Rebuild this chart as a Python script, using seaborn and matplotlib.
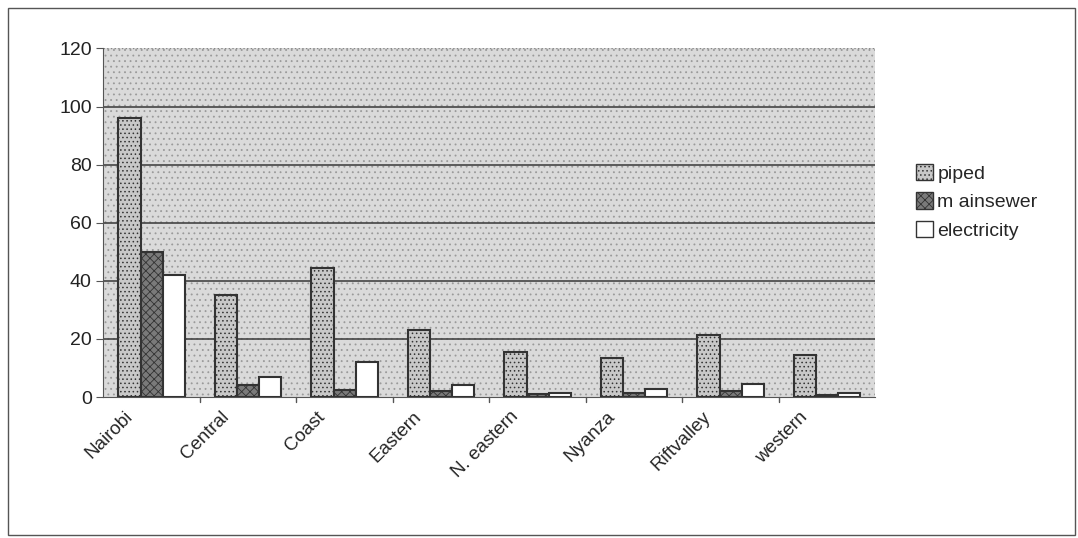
import matplotlib.pyplot as plt
import matplotlib.patches as mpatches
import matplotlib.transforms as mtransforms
import pandas as pd
import seaborn as sns

# valores
regions = ['Nairobi', 'Central', 'Coast', 'Eastern', 'N. eastern', 'Nyanza', 'Riftvalley', 'western']
piped = [96, 35, 44.5, 23, 15.5, 13.5, 21.5, 14.5]
mainsewer = [50, 4, 2.5, 2, 1, 1.5, 2, 0.8]
electricity = [42, 7, 12, 4, 1.5, 2.8, 4.5, 1.3]
series = ['piped', 'm ainsewer', 'electricity']

df = pd.DataFrame({'region': regions, 'piped': piped, 'm ainsewer': mainsewer, 'electricity': electricity})
df = df.melt(id_vars='region', var_name='serie', value_name='valor')

sns.set_style('white')
plt.rcParams['font.family'] = ['Liberation Sans', 'DejaVu Sans']
plt.rcParams['hatch.linewidth'] = 0.6

fig = plt.figure(figsize=(10.78, 5.38), dpi=100)
ax = fig.add_axes([0.096, 0.262, 0.716, 0.648])

# fundo pontilhado cinza
ax.set_facecolor('#dadada')
ax.add_patch(mpatches.Rectangle((0, 0), 1, 1, transform=ax.transAxes, facecolor='none',
                                edgecolor='#9a9a9a', hatch='...', lw=0, zorder=0))

sns.barplot(data=df, x='region', y='valor', hue='serie', hue_order=series,
            palette=['#c8c8c8', '#7a7a7a', '#ffffff'], width=0.69, gap=0,
            edgecolor='#333333', linewidth=1.5, saturation=1, ax=ax, zorder=3)

hatches = ['....', 'xxxx', '']
for cont, h in zip(ax.containers, hatches):
    for bar in cont:
        bar.set_hatch(h)

ax.set_ylim(0, 120)
ax.set_yticks(range(0, 121, 20))
ax.set_xlim(-0.5, 7.5)
for y in range(20, 101, 20):
    ax.axhline(y, color='#444444', lw=1.2, zorder=1)
ax.axhline(120, color='#888888', lw=1, ls=':', zorder=1)

ax.set_xlabel('')
ax.set_ylabel('')
ax.tick_params(axis='y', labelsize=14, length=5, direction='out', left=True, color='#555555', colors='#222222')
ax.set_xticks(range(8))
ax.set_xticklabels(regions, rotation=45, ha='right', rotation_mode='anchor', fontsize=13.5)
ax.tick_params(axis='x', length=0, pad=8)
offset = mtransforms.ScaledTranslation(-0.28, 0, fig.dpi_scale_trans)
for lbl in ax.get_xticklabels():
    lbl.set_transform(lbl.get_transform() + offset)
for x in [i + 0.5 for i in range(7)]:
    ax.plot([x, x], [0, -0.015], transform=ax.get_xaxis_transform(), color='#555555',
            lw=1, clip_on=False)

for side in ['top', 'right']:
    ax.spines[side].set_visible(False)
ax.spines['left'].set_color('#555555')
ax.spines['bottom'].set_color('#555555')

handles, labels = ax.get_legend_handles_labels()
for hd, h in zip(handles, hatches):
    hd.set_hatch(h)
    hd.set_linewidth(1)
ax.legend(handles, series, loc='center left', bbox_to_anchor=(1.03, 0.56), frameon=False,
          fontsize=14, handlelength=0.9, handleheight=0.9, handletextpad=0.2, labelspacing=0.5)

# moldura da figura
fig.patches.append(mpatches.Rectangle((0.007, 0.005), 0.99, 0.98, transform=fig.transFigure,
                                      fill=False, edgecolor='#555555', lw=1))

fig.savefig('out.png', dpi=100)
